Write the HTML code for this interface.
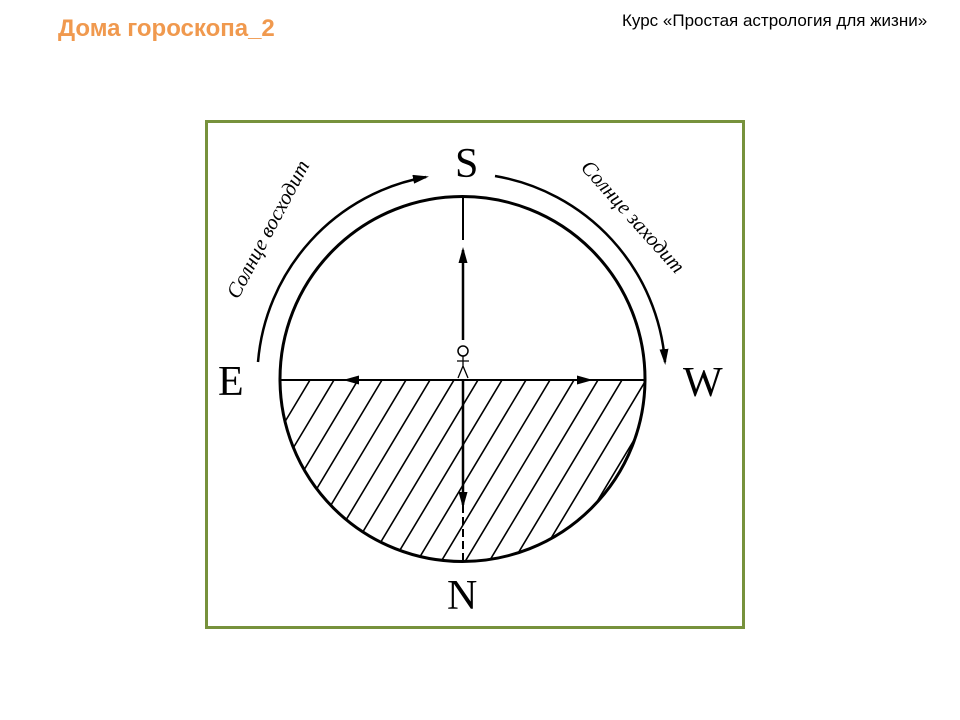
<!DOCTYPE html>
<html><head><meta charset="utf-8"><style>
html,body{margin:0;background:#fff;width:960px;height:720px;overflow:hidden;position:relative}
.t{position:absolute;left:58px;top:15px;font:bold 24px "Liberation Sans",sans-serif;color:#f0994e}
.r{position:absolute;left:622px;top:11px;font:17px "Liberation Sans",sans-serif;color:#000}
</style></head><body>
<div class="t">Дома гороскопа_2</div>
<div class="r">Курс «Простая астрология для жизни»</div>
<svg width="960" height="720" style="position:absolute;left:0;top:0;overflow:hidden">
<defs>
<clipPath id="c"><path d="M280,380 A182.5,182.5 0 0 0 645,380 Z"/></clipPath>
<marker id="a" markerWidth="16" markerHeight="9" refX="13" refY="4.5" orient="auto" markerUnits="userSpaceOnUse"><path d="M0,0 L16,4.5 L0,9 Z" fill="#000"/></marker>
</defs>
<rect x="206.5" y="121.5" width="537" height="506" fill="none" stroke="#77923c" stroke-width="3"/>
<circle cx="462.5" cy="379" r="182.5" fill="none" stroke="#000" stroke-width="3"/>
<g clip-path="url(#c)" stroke="#000" stroke-width="1.6">
<path d="M196,570 L310,380 M220,570 L334,380 M244,570 L358,380 M268,570 L382,380 M292,570 L406,380 M316,570 L430,380 M340,570 L454,380 M364,570 L478,380 M388,570 L502,380 M412,570 L526,380 M436,570 L550,380 M460,570 L574,380 M484,570 L598,380 M508,570 L622,380 M532,570 L646,380 M556,570 L670,380 M580,570 L694,380"/>
</g>
<line x1="280" y1="380" x2="645" y2="380" stroke="#000" stroke-width="2"/>
<line x1="463" y1="380" x2="346" y2="380" stroke="#000" stroke-width="2" marker-end="url(#a)"/>
<line x1="463" y1="380" x2="590" y2="380" stroke="#000" stroke-width="2" marker-end="url(#a)"/>
<line x1="463" y1="198" x2="463" y2="240" stroke="#000" stroke-width="2"/>
<line x1="463" y1="340" x2="463" y2="250" stroke="#000" stroke-width="2.5" marker-end="url(#a)"/>
<line x1="463" y1="380" x2="463" y2="505" stroke="#000" stroke-width="2.5" marker-end="url(#a)"/>
<line x1="463" y1="505" x2="463" y2="561" stroke="#000" stroke-width="2" stroke-dasharray="8,4"/>
<circle cx="463" cy="351" r="5" fill="#fff" stroke="#000" stroke-width="1.5"/>
<path d="M463,356 L463,366 M457,361 L469,361 M463,366 L458,378 M463,366 L468,378" stroke="#000" stroke-width="1.3" fill="none"/>
<path d="M258,362 A205,205 0 0 1 426,177" fill="none" stroke="#000" stroke-width="2.5" marker-end="url(#a)"/>
<path d="M495,176 A205,205 0 0 1 665,362" fill="none" stroke="#000" stroke-width="2.5" marker-end="url(#a)"/>
<g font-family="Liberation Serif,serif" font-size="42" fill="#000">
<text x="455" y="177">S</text>
<text x="218" y="395">E</text>
<text x="683" y="396">W</text>
<text x="447" y="609">N</text>
</g>
<g font-family="Liberation Serif,serif" font-style="italic" font-size="21" fill="#000">
<text transform="translate(238,300) rotate(-62)">Солнце восходит</text>
<text transform="translate(580,168) rotate(48)">Солнце заходит</text>
</g>
</svg>
</body></html>
